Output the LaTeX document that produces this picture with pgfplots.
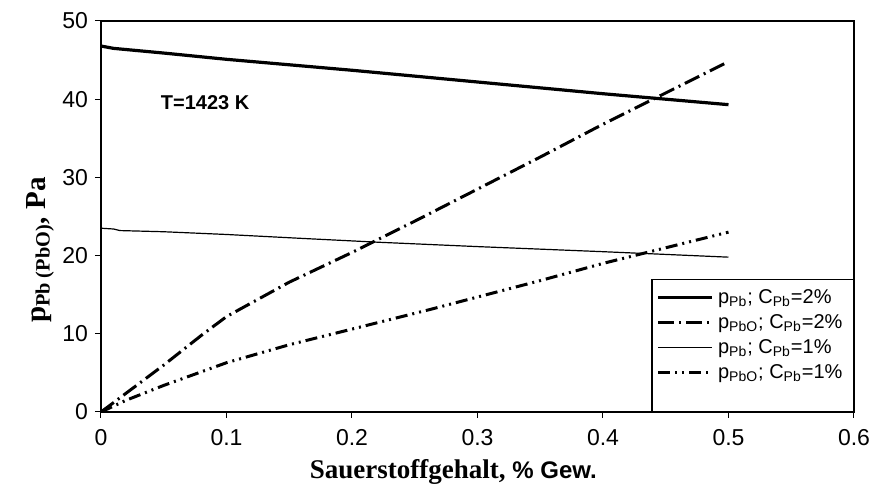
\documentclass[border=0pt]{standalone}
\usepackage{fontspec}
\setmainfont{Liberation Serif}
\setsansfont{Liberation Sans}
\usepackage{pgfplots}
\pgfplotsset{compat=1.18}
\begin{document}
\begin{tikzpicture}
\useasboundingbox (-50.5pt,-36.5pt) rectangle (384pt,206pt);
\begin{axis}[
  scale only axis,
  width=376.5pt, height=195.5pt,
  xmin=0, xmax=0.6, ymin=0, ymax=50,
  xtick={0,0.1,0.2,0.3,0.4,0.5,0.6},
  xticklabels={0,0.1,0.2,0.3,0.4,0.5,0.6},
  ytick={0,10,20,30,40,50},
  tick align=outside, tick pos=left,
  major tick length=3pt,
  axis line style={line width=0.6pt},
  every tick/.style={line width=0.5pt, black},
  tick label style={font=\sffamily\fontsize{11.5}{13}\selectfont},
  xticklabel style={yshift=-2pt},
  /pgf/number format/assume math mode=true,
  every axis x label/.style={at={(axis description cs:0.468,-0.153)}, anchor=center},
  every axis y label/.style={at={(axis description cs:-0.081,0.414)}, rotate=90, anchor=center},
  xlabel={\bfseries\fontsize{13.5}{15}\selectfont Sauerstoffgehalt, {\sffamily\bfseries\fontsize{12}{14}\selectfont \% Gew.}},
  ylabel={\bfseries\fontsize{14.5}{16}\selectfont p\textsubscript{Pb (PbO)}, Pa},
  legend style={at={(axis cs:0.441,16.5)}, anchor=north west, draw=none, fill=none,
    font=\sffamily\fontsize{10}{11.5}\selectfont, row sep=0pt, inner sep=1pt},
  legend cell align=left,
  legend image code/.code={\draw[#1] (0pt,0pt) -- (27pt,0pt);},
]
\addplot[black, line width=1.6pt] coordinates {
(0,46.8) (0.01,46.5) (0.05,45.9) (0.1,45.1) (0.2,43.7) (0.3,42.2) (0.4,40.7) (0.5,39.3)};
\addlegendentry{p\textsubscript{Pb}; C\textsubscript{Pb}=2\%}
\addplot[black, line width=1.5pt, dash pattern=on 8pt off 2.5pt on 1pt off 2.5pt] coordinates {
(0,0) (0.02,2.4) (0.05,6) (0.08,9.8) (0.1,12.2) (0.15,16.6) (0.2,20.4) (0.25,24.4) (0.3,28.5) (0.35,32.6) (0.4,36.8) (0.45,40.8) (0.5,44.8)};
\addlegendentry{p\textsubscript{PbO}; C\textsubscript{Pb}=2\%}
\addplot[black, line width=0.6pt] coordinates {
(0,23.5) (0.01,23.4) (0.015,23.2) (0.05,23.05) (0.1,22.7) (0.16,22.2) (0.222,21.7) (0.3,21.15) (0.4,20.5) (0.5,19.8)};
\addlegendentry{p\textsubscript{Pb}; C\textsubscript{Pb}=1\%}
\addplot[black, line width=1.5pt, dash pattern=on 6pt off 2.5pt on 1pt off 2.5pt on 1pt off 2.5pt] coordinates {
(0,0) (0.02,1.5) (0.05,3.4) (0.1,6.3) (0.15,8.6) (0.2,10.6) (0.262,13.1) (0.3,14.7) (0.35,16.8) (0.4,19.0) (0.45,21.0) (0.5,23.0)};
\addlegendentry{p\textsubscript{PbO}; C\textsubscript{Pb}=1\%}
\draw[line width=0.6pt] (axis cs:0.439,0) |- (axis cs:0.6,16.9);
\node[font=\sffamily\bfseries\fontsize{10}{12}\selectfont] at (axis cs:0.083,39.6) {T=1423 K};
\end{axis}
\end{tikzpicture}
\end{document}
